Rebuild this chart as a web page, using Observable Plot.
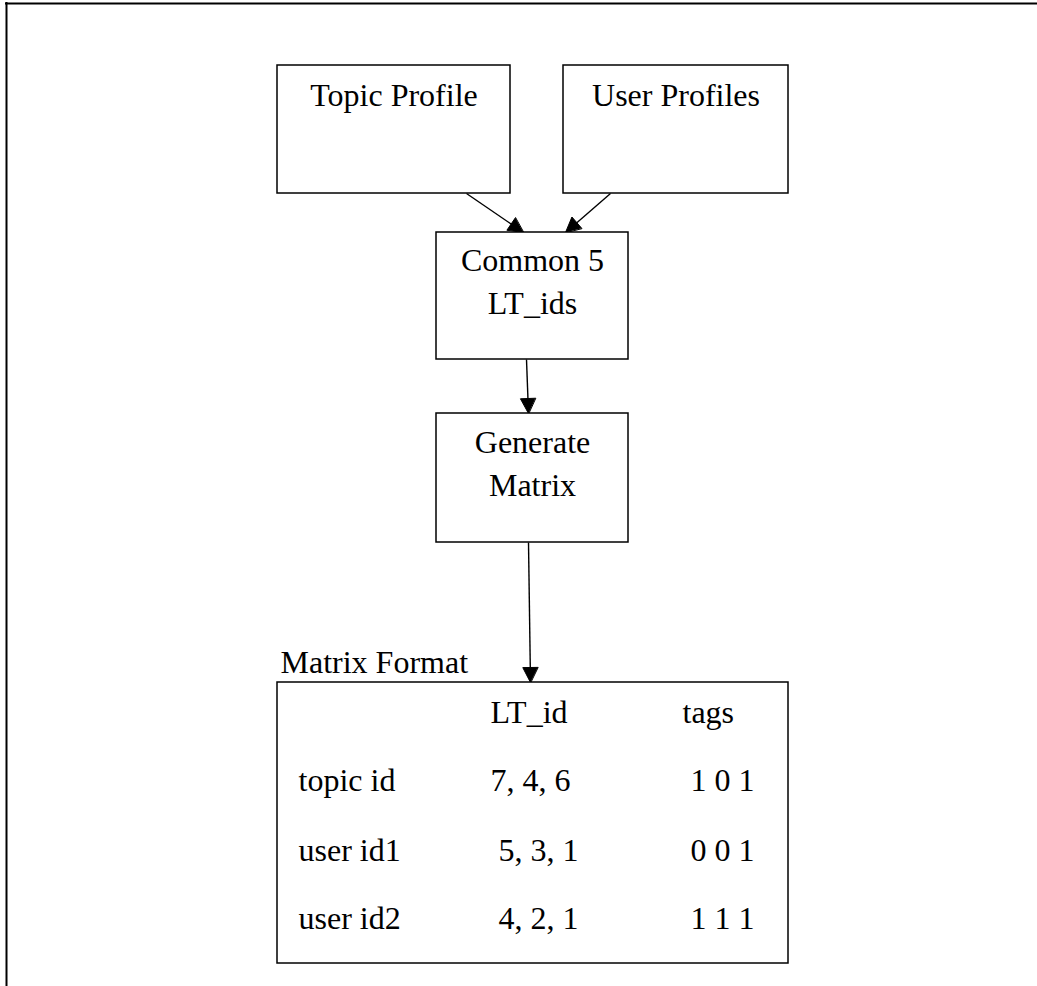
<!DOCTYPE html>
<html><head><meta charset="utf-8">
<script src="https://cdn.jsdelivr.net/npm/d3@7"></script>
<script src="https://cdn.jsdelivr.net/npm/@observablehq/plot@0.6"></script>
<style>
html,body{margin:0;padding:0;background:#fff;}
#chart svg{display:block}
#chart svg text{white-space:pre}
</style>
</head><body><div id="chart"></div>
<script>
// ---- content ----
const nodeNames = ["Topic Profile", "User Profiles", "Common 5\nLT_ids", "Generate\nMatrix"];
const tableTitle = "Matrix Format";
const columnHeaders = ["LT_id", "tags"];
const rowLabels = ["topic id", "user id1", "user id2"];
const ltIdValues = ["7, 4, 6", " 5, 3, 1", " 4, 2, 1"];
const tagValues = [" 1 0 1", " 0 0 1", " 1 1 1"];
const edgeFrom = [0, 1, 2, 3];
const edgeTo = [2, 2, 3, 4]; // 4 = matrix table box

// ---- layout (diagram units = pixels) ----
const W = 1037, H = 986;
const boxGeom = [
  [277, 65, 510, 193], [563, 65, 788, 193],
  [436, 232, 628, 359], [436, 413, 628, 542],
  [277, 682, 788, 963]
];
const labelBaseline = [105, 105, 313, 495];
const edgeGeom = [[466, 193, 523, 232], [610, 193, 565, 232], [526, 359, 528, 413], [528, 542, 530, 682]];
const colX = [490, 682], labelX = 298, headerY = 722, rowY = [790, 860, 928];
const titlePos = [280, 672];

// ---- build tables ----
const boxes = boxGeom.map(([x1, y1, x2, y2], i) => ({x1, y1, x2, y2, i}));
const labels = nodeNames.map((t, i) => ({t, x: (boxGeom[i][0] + boxGeom[i][2]) / 2, y: labelBaseline[i]}));
const headLen = 15, headHalf = 7.5;
const shafts = [], heads = [];
edgeFrom.forEach((f, k) => {
  const [x1, y1, x2, y2] = edgeGeom[k];
  const dx = x2 - x1, dy = y2 - y1, L = Math.hypot(dx, dy);
  const ux = dx / L, uy = dy / L, nx = -uy, ny = ux;
  const bx = x2 - headLen * ux, by = y2 - headLen * uy;
  shafts.push({x1, y1, x2: bx, y2: by, from: f, to: edgeTo[k]});
  heads.push({id: k, x: x2, y: y2}, {id: k, x: bx + headHalf * nx, y: by + headHalf * ny}, {id: k, x: bx - headHalf * nx, y: by - headHalf * ny});
});
const cells = [];
columnHeaders.forEach((t, c) => cells.push({t, x: colX[c], y: headerY}));
rowLabels.forEach((t, r) => {
  cells.push({t, x: labelX, y: rowY[r]});
  cells.push({t: ltIdValues[r], x: colX[0], y: rowY[r]});
  cells.push({t: tagValues[r], x: colX[1], y: rowY[r]});
});

const font = "Liberation Serif, Times New Roman, serif";
const chart = Plot.plot({
  width: W, height: H, margin: 0,
  x: {domain: [0, W], range: [0, W], axis: null},
  y: {domain: [0, H], range: [0, H], axis: null},
  marks: [
    Plot.ruleY([3], {x1: 5, x2: W, stroke: "#000", strokeWidth: 2}),
    Plot.ruleX([6], {y1: 2, y2: H, stroke: "#000", strokeWidth: 2}),
    Plot.link(shafts, {x1: "x1", y1: "y1", x2: "x2", y2: "y2", stroke: "#000", strokeWidth: 1.4}),
    Plot.line(heads, {x: "x", y: "y", z: "id", fill: "#000", stroke: "#000", strokeWidth: 1, curve: "linear-closed"}),
    Plot.rect(boxes, {x1: "x1", x2: "x2", y1: "y1", y2: "y2", fill: "#fff", stroke: "#000", strokeWidth: 1.5}),
    Plot.text(labels, {x: "x", y: "y", text: "t", fontFamily: font, fontSize: 32, fill: "#000", textAnchor: "middle", lineAnchor: "bottom", lineHeight: 1.34}),
    Plot.text([tableTitle], {x: titlePos[0], y: titlePos[1], text: d => d, fontFamily: font, fontSize: 32, fill: "#000", textAnchor: "start", lineAnchor: "bottom"}),
    Plot.text(cells, {x: "x", y: "y", text: "t", fontFamily: font, fontSize: 32, fill: "#000", textAnchor: "start", lineAnchor: "bottom"})
  ]
});
document.getElementById("chart").append(chart);
</script>
</body></html>
